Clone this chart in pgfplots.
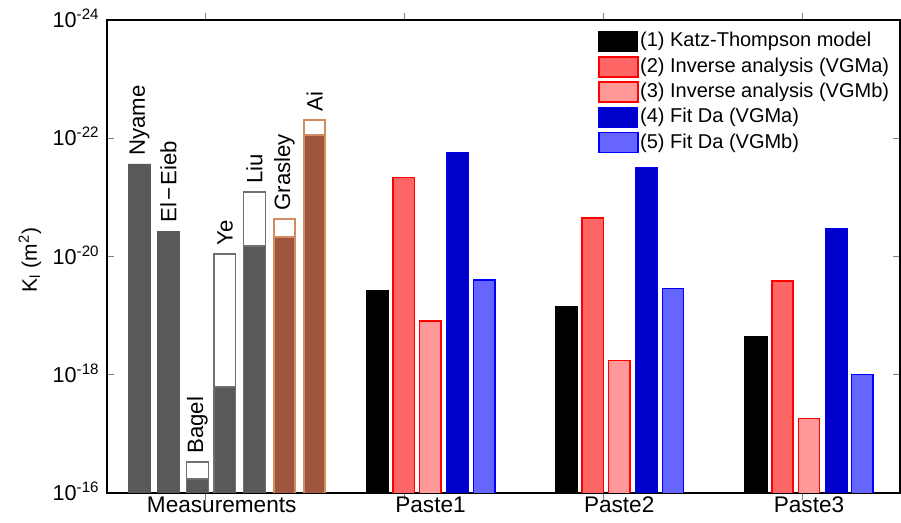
\documentclass[border=0pt]{standalone}
\usepackage{fontspec}
\setmainfont{Liberation Sans}
\usepackage{pgfplots}
\pgfplotsset{compat=1.18}
\definecolor{mgray}{HTML}{58595B}
\definecolor{ogray}{HTML}{707070}
\definecolor{mbrown}{HTML}{A0553F}
\definecolor{morange}{HTML}{D28C5F}
\definecolor{r2}{HTML}{FF6666}
\definecolor{r3}{HTML}{FF9999}
\definecolor{b4}{HTML}{0000CC}
\definecolor{b5}{HTML}{6666FF}
\pgfplotsset{sq/.style={legend image code/.code={\draw[##1] (0pt,-5pt) rectangle (19.5pt,5pt);}}}
\newcommand\lf{\fontsize{11.1}{13}\selectfont}
\begin{document}
\begin{tikzpicture}
\begin{axis}[
  at={(53.5pt,15pt)}, anchor=south west,
  scale only axis, width=396.5pt, height=236.5pt,
  xmin=107, xmax=900,
  ymode=log, ymin=1e-24, ymax=1e-16, y dir=reverse,
  ytick={1e-24,1e-22,1e-20,1e-18,1e-16},
  yticklabels={10\textsuperscript{-24},10\textsuperscript{-22},10\textsuperscript{-20},10\textsuperscript{-18},10\textsuperscript{-16}},
  yticklabel style={font=\fontsize{10.8}{13}\selectfont, anchor=base east, yshift=-3.8pt, xshift=-3.5pt, inner sep=0pt},
  yminorticks=false, xminorticks=false,
  xtick={206,404,603,802}, xticklabels={},
  extra x ticks={221.7,430.5,619.2,809},
  extra x tick labels={Measurements,Paste1,Paste2,Paste3},
  extra x tick style={major tick length=0pt, xticklabel style={font=\fontsize{11.3}{13}\selectfont, anchor=base, yshift=-10pt, inner sep=0pt}},
  major tick length=3.5pt,
  tick style={color=gray, line width=0.5pt},
  axis line style={line width=0.6pt},
  ylabel={K\textsubscript{l} (m\textsuperscript{2})},
  ylabel style={font=\fontsize{10.5}{12}\selectfont, at={(axis description cs:-0.0971,0.4926)}, anchor=center},
  ybar, bar shift=0pt,
  legend style={draw=none, fill=none, at={(axis description cs:0.6192,1)}, yshift=-5.2pt, anchor=north west, inner sep=0pt, outer sep=0pt, row sep=1.45pt, font=\fontsize{10}{12}\selectfont, nodes={inner sep=0.75pt, text height=7.5pt, text depth=2.2pt}},
  legend cell align=left,
]
% Measurements
\addplot[forget plot, fill=mgray, draw=mgray, line width=0.4pt, bar width=22.5] coordinates {(139.5,2.72e-22) (168.5,3.71e-21)};
\addplot[forget plot, fill=white, draw=ogray, line width=0.7pt, bar width=21.6] coordinates {(197.5,2.99e-17) (225,9.08e-21) (254.5,8.11e-22)};
\addplot[forget plot, fill=mgray, draw=ogray, line width=0.7pt, bar width=21.6] coordinates {(197.5,5.79e-17) (225,1.61e-18) (254.5,6.64e-21)};
\addplot[forget plot, fill=white, draw=morange, line width=0.8pt, bar width=21.4] coordinates {(284.5,2.32e-21) (314.5,4.91e-23)};
\addplot[forget plot, fill=mbrown, draw=morange, line width=0.8pt, bar width=21.4] coordinates {(284.5,4.68e-21) (314.5,8.81e-23)};
% Pastes
\addplot[sq, fill=black, draw=black, line width=0.4pt, bar width=22.2] coordinates {(377.2,3.69e-20) (566.3,7.06e-20) (755.8,2.27e-19)};
\addplot[sq, fill=r2, draw=red, line width=0.8pt, bar width=21.2] coordinates {(403.7,4.65e-22) (592.8,2.26e-21) (782.5,2.59e-20)};
\addplot[sq, fill=r3, draw=red, line width=0.8pt, bar width=21.2] coordinates {(430.2,1.23e-19) (619.2,5.78e-19) (809,5.53e-18)};
\addplot[sq, fill=b4, draw=blue!70!b4, line width=0.5pt, bar width=22] coordinates {(457.7,1.75e-22) (646.8,3.18e-22) (836,3.43e-21)};
\addplot[sq, fill=b5, draw=blue, line width=0.7pt, bar width=21.4] coordinates {(484.2,2.49e-20) (673,3.51e-20) (862.2,9.82e-19)};
\legend{(1) Katz-Thompson model,(2) Inverse analysis (VGMa),(3) Inverse analysis (VGMb),(4) Fit Da (VGMa),(5) Fit Da (VGMb)}
% bar labels
\node[rotate=90, anchor=west, inner xsep=4pt, inner ysep=0pt, font=\lf] at (axis cs:139.5,2.72e-22) {Nyame};
\node[rotate=90, anchor=west, inner xsep=4pt, inner ysep=0pt, font=\lf] at (axis cs:168.5,3.71e-21) {El\kern1.2pt−\kern1.2pt Eieb};
\node[rotate=90, anchor=west, inner xsep=4pt, inner ysep=0pt, font=\lf] at (axis cs:197.5,2.99e-17) {Bagel};
\node[rotate=90, anchor=west, inner xsep=4pt, inner ysep=0pt, font=\lf] at (axis cs:225,9.08e-21) {Ye};
\node[rotate=90, anchor=west, inner xsep=4pt, inner ysep=0pt, font=\lf] at (axis cs:254.5,8.11e-22) {Liu};
\node[rotate=90, anchor=west, inner xsep=4pt, inner ysep=0pt, font=\lf] at (axis cs:284.5,2.32e-21) {Grasley};
\node[rotate=90, anchor=west, inner xsep=4pt, inner ysep=0pt, font=\lf] at (axis cs:314.5,4.91e-23) {Ai};
\end{axis}
\pgfresetboundingbox
\path[use as bounding box] (0,0) rectangle (450.5pt,261.5pt);
\end{tikzpicture}
\end{document}
